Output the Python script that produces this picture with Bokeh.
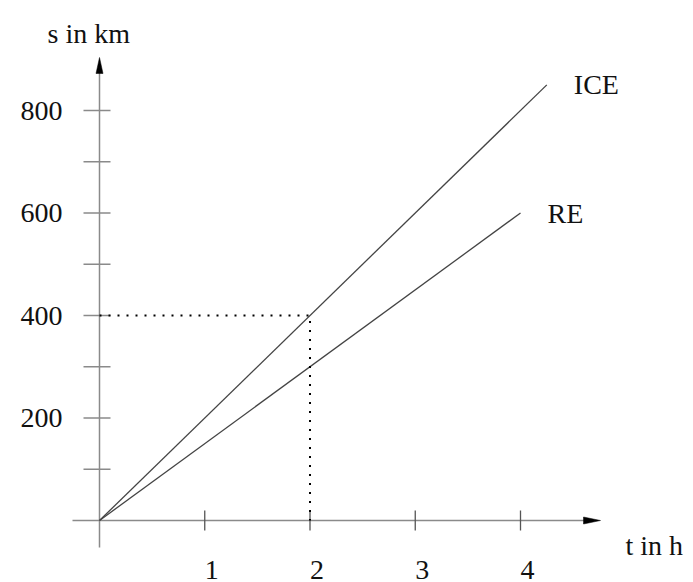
from bokeh.plotting import figure
from bokeh.embed import file_html
from bokeh.resources import INLINE
from bokeh.core.properties import value
from bokeh.models import ColumnDataSource

# ---- data ----
series_names = ["ICE", "RE"]
speeds_kmh = [200, 150]          # km/h
end_times_h = [4.25, 4.0]        # h
x_ticks = [1, 2, 3, 4]
x_tick_labels = ["1", "2", "3", "4"]
y_ticks = [100, 200, 300, 400, 500, 600, 700, 800]
y_labeled = [200, 400, 600, 800]
y_tick_labels = ["200", "400", "600", "800"]
marker_t = 2
marker_s = 400
x_title = "t in h"
y_title = "s in km"

# ---- pixel geometry ----
W, H = 693, 582
OX, OY = 99.0, 520.0        # origin in canvas px
PX_T = 105.25               # px per hour
PX_S = 0.5125               # px per km

def t_of(px):
    return (px - OX) / PX_T

def s_of(py):
    return (OY - py) / PX_S

p = figure(width=W, height=H, output_backend="svg", toolbar_location=None,
           x_range=(t_of(0), t_of(W)), y_range=(s_of(H), s_of(0)),
           min_border=0, min_border_left=0, min_border_right=0,
           min_border_top=0, min_border_bottom=0)
p.axis.visible = False
p.grid.visible = False
p.outline_line_color = None
p.background_fill_color = "white"

FONT = value("Liberation Serif")
FS = "28px"
AX = "#8a8a8a"

# axes
p.line([t_of(OX - 27), t_of(OX + 486)], [0, 0], line_color=AX, line_width=1.5)
p.line([0, 0], [s_of(OY + 27), s_of(OY - 448)], line_color=AX, line_width=1.5)

# arrow heads (15 px long, 7 px wide)
xt = t_of(OX + 501); xb = t_of(OX + 484)
p.patch([xb, xt, xb], [s_of(OY - 3.5), 0, s_of(OY + 3.5)], color="black", line_width=0.5)
yt = s_of(OY - 463); yb = s_of(OY - 447)
p.patch([t_of(OX - 3.5), 0, t_of(OX + 3.5)], [yb, yt, yb], color="black", line_width=0.5)

# ticks
for t in x_ticks:
    p.line([t, t], [s_of(OY + 10), s_of(OY - 10)], line_color="#555555", line_width=1.3)
for s in y_ticks:
    p.line([t_of(OX - 16), t_of(OX + 11)], [s, s], line_color=AX, line_width=1.5)

# series lines
for name, v, te in zip(series_names, speeds_kmh, end_times_h):
    p.line([0, te], [0, v * te], line_color="#444444", line_width=1.3)

# dotted guide lines
p.line([0, marker_t, marker_t], [marker_s, marker_s, 0], line_color="black",
       line_width=2, line_dash="2 7")

# tick labels
src_x = ColumnDataSource(dict(x=x_ticks, y=[0] * len(x_ticks), t=x_tick_labels))
p.text("x", "y", "t", source=src_x, text_font=FONT, text_font_size=FS,
       text_align="left", text_baseline="alphabetic", x_offset=0, y_offset=49,
       text_color="#111111")
src_y = ColumnDataSource(dict(x=[0] * len(y_labeled), y=y_labeled, t=y_tick_labels))
p.text("x", "y", "t", source=src_y, text_font=FONT, text_font_size=FS,
       text_align="right", text_baseline="alphabetic", x_offset=-37, y_offset=0,
       text_color="#111111")

# axis titles
p.text([t_of(OX - 52)], [s_of(OY - 487)], [y_title], text_font=FONT, text_font_size=FS,
       text_align="left", text_baseline="alphabetic", text_color="#111111")
p.text([t_of(OX + 526)], [s_of(OY + 25)], [x_title], text_font=FONT, text_font_size=FS,
       text_align="left", text_baseline="alphabetic", text_color="#111111")

# series labels
ends_t = end_times_h
ends_s = [v * te for v, te in zip(speeds_kmh, end_times_h)]
p.text(ends_t, ends_s, series_names, text_font=FONT, text_font_size=FS,
       text_align="left", text_baseline="alphabetic", x_offset=27, y_offset=0,
       text_color="#111111")

open("out.html", "w").write(file_html(p, INLINE))
